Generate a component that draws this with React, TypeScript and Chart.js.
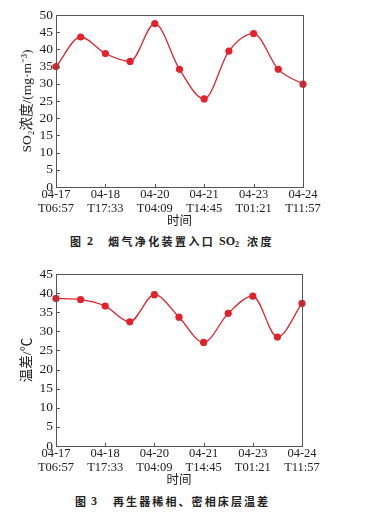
import React, { useEffect, useRef } from "react";
import { Chart, registerables } from "chart.js";

Chart.register(...registerables);

const timeLabels: string[][] = [
  ["04-17", "T06:57"], [], ["04-18", "T17:33"], [], ["04-20", "T04:09"], [],
  ["04-21", "T14:45"], [], ["04-23", "T01:21"], [], ["04-24", "T11:57"],
];
const so2Values = [35.0, 43.6, 38.8, 36.5, 47.5, 34.2, 25.6, 39.5, 44.6, 34.2, 29.9];
const tempDiffValues = [38.6, 38.3, 36.6, 32.5, 39.6, 33.7, 27.1, 34.7, 39.2, 28.5, 37.3];

const SERIF = "'Liberation Serif', 'Times New Roman', 'Noto Sans CJK SC', serif";
const CJK = "'Liberation Serif', 'Noto Sans CJK SC', serif";
const RED = "#e1222c";
const AXIS = "#555";

const framePlugin = {
  id: "frameTicks",
  afterDraw(chart: any) {
    const { ctx, chartArea } = chart;
    const { left, right, top, bottom } = chartArea;
    ctx.save();
    ctx.strokeStyle = AXIS;
    ctx.lineWidth = 1;
    ctx.strokeRect(Math.round(left) + 0.5, Math.round(top) + 0.5, Math.round(right - left), Math.round(bottom - top));
    const xs = chart.scales.x;
    const ys = chart.scales.y;
    ctx.beginPath();
    timeLabels.forEach((lab, i) => {
      if (lab.length && i > 0 && i < timeLabels.length - 1) {
        const px = Math.round(xs.getPixelForValue(i)) + 0.5;
        ctx.moveTo(px, Math.round(bottom));
        ctx.lineTo(px, Math.round(bottom) - 3);
      }
    });
    ys.ticks.forEach((t: any) => {
      const py = Math.round(ys.getPixelForValue(t.value)) + 0.5;
      ctx.moveTo(Math.round(left), py);
      ctx.lineTo(Math.round(left) + 4, py);
    });
    ctx.stroke();
    ctx.restore();
  },
};

function LineChart({ values, max, yTitle, padRight }: { values: number[]; max: number; yTitle: string; padRight: number }) {
  const ref = useRef<HTMLCanvasElement>(null);
  useEffect(() => {
    if (!ref.current) return;
    const chart = new Chart(ref.current, {
      type: "line",
      data: {
        labels: timeLabels.map((_l, i) => String(i)),
        datasets: [
          {
            data: values,
            borderColor: RED,
            backgroundColor: RED,
            borderWidth: 1.3,
            pointRadius: 3.6,
            pointBorderWidth: 0,
            pointBackgroundColor: RED,
            cubicInterpolationMode: "monotone",
            fill: false,
          },
        ],
      },
      options: {
        animation: false,
        responsive: true,
        maintainAspectRatio: false,
        layout: { padding: { top: 15, right: padRight, left: 0, bottom: 0 } },
        plugins: { legend: { display: false }, tooltip: { enabled: false }, title: { display: false } },
        scales: {
          x: {
            offset: false,
            grid: { display: false, drawTicks: false },
            border: { display: false },
            ticks: {
              autoSkip: false,
              maxRotation: 0,
              padding: 1,
              color: "#222",
              font: { family: SERIF, size: 12.5, lineHeight: 1.08 },
              callback: (_v: any, i: number) => timeLabels[i],
            },
            title: {
              display: true,
              text: "时间",
              color: "#222",
              font: { family: CJK, size: 12.5 },
              padding: { top: 0, bottom: 0 },
            },
            afterFit: (s: any) => {
              s.height = 42;
            },
          },
          y: {
            min: 0,
            max: max,
            grid: { display: false, drawTicks: false },
            border: { display: false },
            ticks: {
              stepSize: 5,
              autoSkip: false,
              padding: 3,
              color: "#222",
              font: { family: SERIF, size: 13.5 },
            },
            title: {
              display: true,
              text: yTitle,
              color: "#222",
              font: { family: CJK, size: 13.5 },
              padding: { top: 19, bottom: 0 },
            },
            afterFit: (s: any) => {
              s.width = 56;
            },
          },
        },
      },
      plugins: [framePlugin],
    });
    return () => chart.destroy();
  }, []);
  return <canvas ref={ref} />;
}

const captionStyle: React.CSSProperties = {
  position: "absolute",
  fontFamily: "'Noto Sans CJK SC', sans-serif",
  fontWeight: 700,
  fontSize: 11,
  color: "#222",
  whiteSpace: "nowrap",
  lineHeight: "14px",
};
const serifBold: React.CSSProperties = {
  fontFamily: "'Liberation Serif', serif",
  fontWeight: 700,
  fontSize: 12,
  letterSpacing: 0,
};

export default function App() {
  return (
    <div style={{ position: "absolute", left: 0, top: 0, width: 365, height: 516, background: "#fff" }}>
      <div style={{ position: "absolute", left: 0, top: 0, width: 365, height: 229 }}>
        <LineChart values={so2Values} max={50} yTitle="SO₂浓度/(mg·m⁻³)" padRight={62} />
      </div>
      <span style={{ ...captionStyle, left: 70, top: 234 }}>图</span>
      <span style={{ ...captionStyle, ...serifBold, left: 87, top: 234 }}>2</span>
      <span style={{ ...captionStyle, left: 108, top: 234, letterSpacing: 2.4 }}>烟气净化装置入口</span>
      <span style={{ ...captionStyle, ...serifBold, left: 219, top: 234 }}>
        SO<sub style={{ fontSize: 8, verticalAlign: "-2px" }}>2</sub>
      </span>
      <span style={{ ...captionStyle, left: 247, top: 234, letterSpacing: 2.4 }}>浓度</span>
      <div style={{ position: "absolute", left: 0, top: 259, width: 365, height: 229 }}>
        <LineChart values={tempDiffValues} max={45} yTitle="温差/℃" padRight={63} />
      </div>
      <span style={{ ...captionStyle, left: 75, top: 494 }}>图</span>
      <span style={{ ...captionStyle, ...serifBold, left: 91, top: 494 }}>3</span>
      <span style={{ ...captionStyle, left: 113, top: 494, letterSpacing: 2.1 }}>再生器稀相、密相床层温差</span>
    </div>
  );
}
